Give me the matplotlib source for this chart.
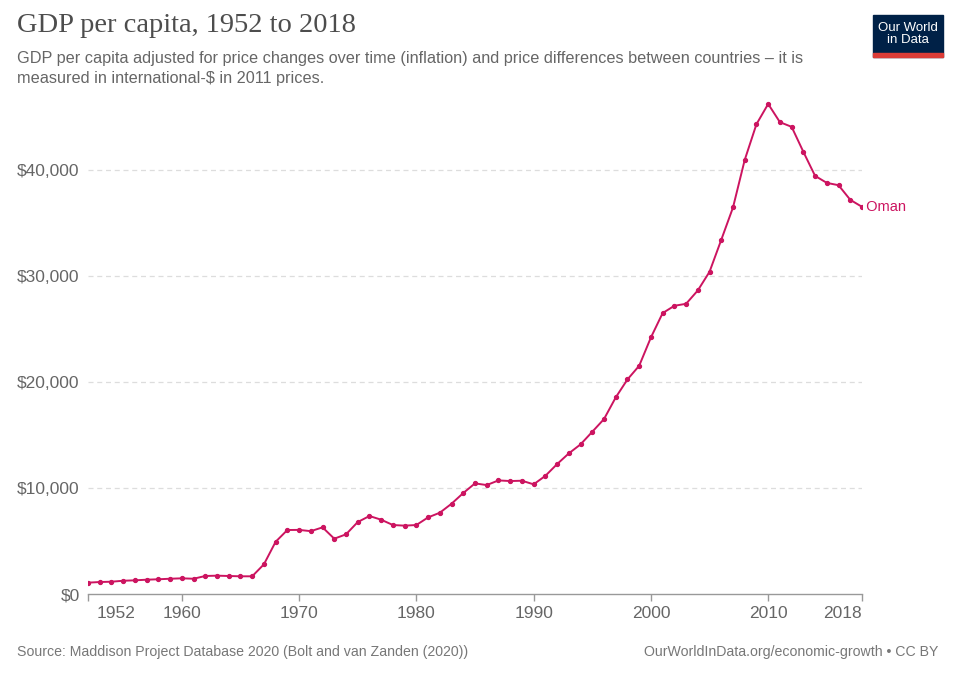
import matplotlib
matplotlib.use("Agg")
import matplotlib.pyplot as plt
import matplotlib.transforms as mtransforms
from matplotlib.patches import Rectangle
from matplotlib.ticker import FuncFormatter

years = list(range(1952, 2019))
gdp = [1070, 1130, 1160, 1250, 1290, 1350, 1390, 1440, 1480, 1440,
       1700, 1730, 1700, 1670, 1670, 2800, 4930, 6040, 6050, 5930,
       6290, 5220, 5630, 6790, 7360, 7010, 6510, 6450, 6510, 7230,
       7670, 8520, 9530, 10440, 10280, 10720, 10660, 10690, 10350, 11150,
       12260, 13270, 14120, 15310, 16510, 18550, 20250, 21540, 24210, 26510,
       27200, 27390, 28650, 30410, 33430, 36480, 40970, 44340, 46250, 44530,
       44090, 41730, 39460, 38800, 38580, 37200, 36540]
xticks = [1952, 1960, 1970, 1980, 1990, 2000, 2010, 2018]
yticks = [0, 10000, 20000, 30000, 40000]
country = "Oman"

plt.rcParams["font.family"] = ["Liberation Sans", "DejaVu Sans"]
LINE_C = "#cc1460"
GRAY = "#666666"

fig = plt.figure(figsize=(9.6, 6.78), dpi=100)
ax = fig.add_axes([88 / 960, 1 - 594 / 678, (862 - 88) / 960, (594 - 96) / 678])

ax.plot(years, gdp, color=LINE_C, lw=1.4, marker="o", ms=2.8, zorder=3)
ax.set_xlim(1952, 2018)
ax.set_ylim(0, 47000)

ax.set_yticks(yticks)
ax.yaxis.set_major_formatter(FuncFormatter(lambda v, p: f"${v:,.0f}"))
ax.set_xticks(xticks)
ax.set_xticklabels([str(t) for t in xticks])
for s in ("top", "right", "left"):
    ax.spines[s].set_visible(False)
ax.spines["bottom"].set_color("#999999")
ax.spines["bottom"].set_linewidth(1)
ax.tick_params(axis="y", length=0, labelsize=12.5, labelcolor=GRAY, pad=6)
ax.tick_params(axis="x", length=5, width=1, color="#999999", labelsize=12.5,
               labelcolor=GRAY, pad=4)
ax.grid(axis="y", color="#dddddd", ls=(0, (4, 3)), lw=0.9)
for gl in ax.get_ygridlines()[:1]:
    gl.set_visible(False)

labs = ax.get_xticklabels()
labs[0].set_horizontalalignment("left")
labs[0].set_transform(labs[0].get_transform() +
                      mtransforms.ScaledTranslation(9 / 100, 0, fig.dpi_scale_trans))
labs[-1].set_horizontalalignment("right")

ax.text(years[-1], gdp[-1], " " + country, color=LINE_C, fontsize=10.5,
        va="center", ha="left", clip_on=False)

fig.text(17 / 960, 1 - 26 / 678, "GDP per capita, 1952 to 2018", fontsize=20.5,
         family="Liberation Serif", color="#4d4d4d", va="center")
fig.text(17 / 960, 1 - 59 / 678,
         "GDP per capita adjusted for price changes over time (inflation) and price differences between countries \u2013 it is",
         fontsize=11.7, color=GRAY, va="center")
fig.text(17 / 960, 1 - 79 / 678, "measured in international-$ in 2011 prices.",
         fontsize=11.7, color=GRAY, va="center")

fig.text(17 / 960, 1 - 652 / 678,
         "Source: Maddison Project Database 2020 (Bolt and van Zanden (2020))",
         fontsize=10.2, color="#777777", va="center")
fig.text(938 / 960, 1 - 652 / 678, "OurWorldInData.org/economic-growth \u2022 CC BY",
         fontsize=10.2, color="#777777", va="center", ha="right")

# logo
fig.patches.append(Rectangle((873 / 960, 1 - 57 / 678), 70 / 960, 42 / 678,
                             transform=fig.transFigure, color="#002147"))
fig.patches.append(Rectangle((873 / 960, 1 - 57 / 678), 70 / 960, 4 / 678,
                             transform=fig.transFigure, color="#dc3c37"))
fig.text(908 / 960, 1 - 34 / 678, "Our World\nin Data", color="white",
         fontsize=9.5, ha="center", va="center", linespacing=1.0)

fig.savefig("out.png", dpi=100)
